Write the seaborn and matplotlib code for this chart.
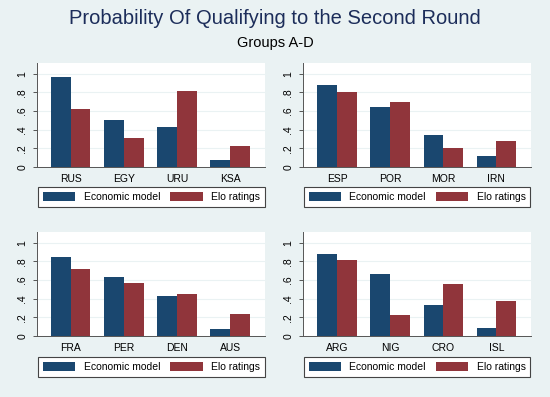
import matplotlib
matplotlib.use("Agg")
import matplotlib.pyplot as plt
import seaborn as sns
import pandas as pd

# ── data ────────────────────────────────────────────────────────────────────
groups = ["A", "B", "C", "D"]
teams_a = ["RUS", "EGY", "URU", "KSA"]
teams_b = ["ESP", "POR", "MOR", "IRN"]
teams_c = ["FRA", "PER", "DEN", "AUS"]
teams_d = ["ARG", "NIG", "CRO", "ISL"]

econ_a = [0.96, 0.50, 0.43, 0.08]
elo_a = [0.62, 0.31, 0.82, 0.23]
econ_b = [0.875, 0.64, 0.34, 0.12]
elo_b = [0.80, 0.70, 0.20, 0.28]
econ_c = [0.85, 0.63, 0.43, 0.07]
elo_c = [0.72, 0.57, 0.45, 0.24]
econ_d = [0.88, 0.66, 0.33, 0.09]
elo_d = [0.81, 0.23, 0.56, 0.38]

series = ["Economic model", "Elo ratings"]
yticks = [0, 0.2, 0.4, 0.6, 0.8, 1]
ytick_labels = ["0", ".2", ".4", ".6", ".8", "1"]

NAVY = "#1A476F"
MAROON = "#90353B"
BG = "#EAF2F3"

plt.rcParams["font.family"] = ["Liberation Sans", "DejaVu Sans"]

fig = plt.figure(figsize=(5.5, 3.97), dpi=100, facecolor=BG)

# axes boxes in figure fractions [left, bottom, width, height]
boxes = [
    [0.067, 0.5793, 0.415, 0.262],
    [0.551, 0.5793, 0.415, 0.262],
    [0.067, 0.1537, 0.415, 0.262],
    [0.551, 0.1537, 0.415, 0.262],
]
legend_pos = [(0.2755, 0.504), (0.7585, 0.504), (0.2755, 0.075), (0.7585, 0.075)]

panels = [
    (teams_a, econ_a, elo_a),
    (teams_b, econ_b, elo_b),
    (teams_c, econ_c, elo_c),
    (teams_d, econ_d, elo_d),
]

for box, lpos, (teams, econ, elo) in zip(boxes, legend_pos, panels):
    df = pd.DataFrame({
        "team": teams * 2,
        "prob": econ + elo,
        "model": [series[0]] * len(teams) + [series[1]] * len(teams),
    })
    ax = fig.add_axes(box)
    ax.set_facecolor("white")
    sns.barplot(data=df, x="team", y="prob", hue="model", order=teams,
                hue_order=series, palette=[NAVY, MAROON], saturation=1,
                width=0.74, ax=ax, legend=True, linewidth=0)
    ax.set_xlim(-0.64, 3.66)
    ax.set_ylim(0, 1.115)
    ax.set_yticks(yticks)
    ax.set_yticklabels(ytick_labels, rotation=90, va="center")
    ax.tick_params(axis="y", length=3, width=0.7, color="#555555",
                   labelsize=7.5, pad=4)
    ax.tick_params(axis="x", length=0, labelsize=7.5, pad=5)
    ax.set_xlabel("")
    ax.set_ylabel("")
    ax.yaxis.grid(True, color=BG, linewidth=0.8)
    ax.set_axisbelow(True)
    for s in ["top", "right"]:
        ax.spines[s].set_visible(False)
    for s in ["left", "bottom"]:
        ax.spines[s].set_color("#555555")
        ax.spines[s].set_linewidth(0.7)

    handles, labels = ax.get_legend_handles_labels()
    ax.get_legend().remove()
    leg = fig.legend(handles, labels, loc="center", bbox_to_anchor=lpos,
                     ncol=2, fontsize=7.5, handlelength=3.1, handleheight=1.0,
                     handletextpad=0.8, columnspacing=1.0, borderpad=0.45,
                     fancybox=False, framealpha=1, edgecolor="#444444")
    leg.get_frame().set_linewidth(0.8)

fig.text(0.5, 1 - 18 / 397, "Probability Of Qualifying to the Second Round",
         ha="center", va="center", fontsize=14.5, color="#1c2d5a")
fig.text(0.5, 1 - 43 / 397, "Groups A-D", ha="center", va="center",
         fontsize=10.5, color="black")

plt.savefig("out.png", dpi=100, facecolor=BG)
plt.close()
